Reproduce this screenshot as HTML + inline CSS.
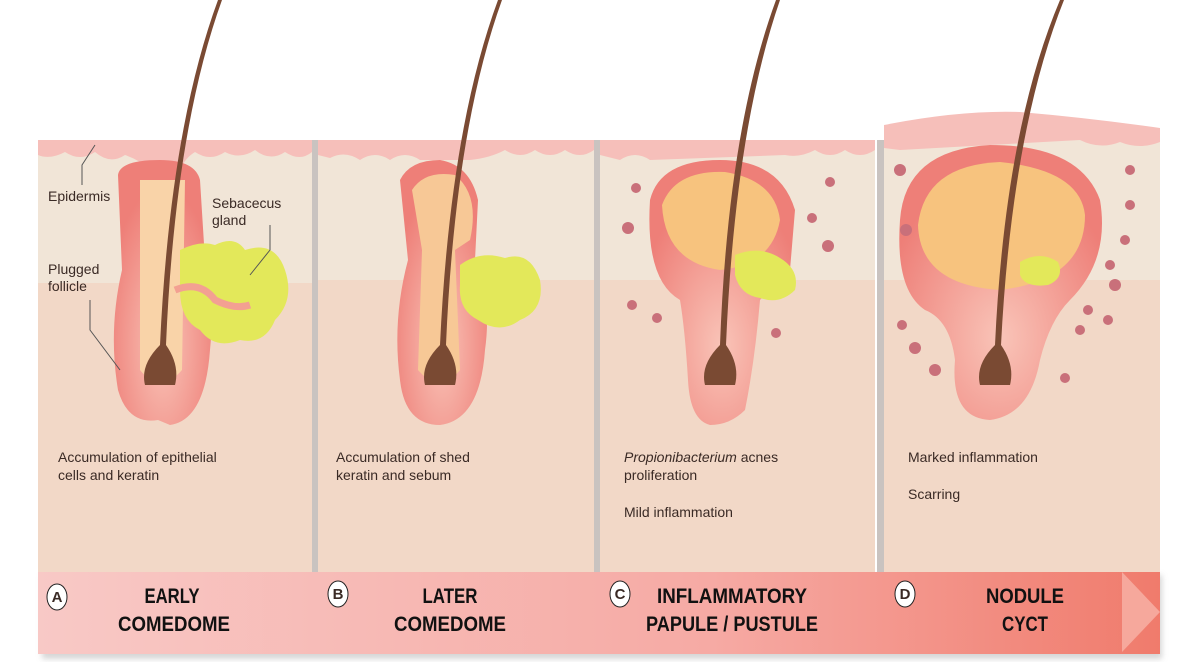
<!DOCTYPE html>
<html><head><meta charset="utf-8"><style>
body{margin:0;background:#fff;width:1200px;height:662px;overflow:hidden}
svg{display:block}
text{font-family:"Liberation Sans",sans-serif;fill:#3a2a25}
.lb{font-size:14px}
.tt{font-family:"Liberation Sans",sans-serif;font-weight:bold;font-size:21px;fill:#111;text-anchor:middle}
</style></head><body>
<svg width="1200" height="662" viewBox="0 0 1200 662">
<defs>
<linearGradient id="bar" x1="0" x2="1"><stop offset="0" stop-color="#f8c9c6"/><stop offset="0.6" stop-color="#f6aaa4"/><stop offset="1" stop-color="#f07b6c"/></linearGradient>
<radialGradient id="fol" cx="0.5" cy="0.7" r="0.6"><stop offset="0" stop-color="#f9c4b8"/><stop offset="1" stop-color="#ee7f78"/></radialGradient>
<filter id="sh"><feGaussianBlur stdDeviation="3"/></filter>
</defs>
<!-- shadows -->
<rect x="42" y="575" width="1120" height="84" fill="#bbb" filter="url(#sh)" opacity="0.6"/>
<!-- panels -->
<g id="panels">
<rect x="38" y="140" width="274" height="432" fill="#f2d8c7"/>
<rect x="38" y="140" width="274" height="143" fill="#f1e5d7"/>
<rect x="318" y="140" width="276" height="432" fill="#f2d8c7"/>
<rect x="318" y="140" width="276" height="140" fill="#f1e5d7"/>
<rect x="600" y="140" width="275" height="432" fill="#f2d8c7"/>
<rect x="600" y="140" width="275" height="140" fill="#f1e5d7"/>
<rect x="884" y="130" width="276" height="442" fill="#f2d8c7"/>
<rect x="884" y="130" width="276" height="150" fill="#f1e5d7"/>
<rect x="312" y="140" width="6" height="432" fill="#c9c3c0"/>
<rect x="594" y="140" width="6" height="432" fill="#c9c3c0"/>
<rect x="877" y="140" width="7" height="432" fill="#c9c3c0"/>
</g>
<!-- epidermis bands -->
<path d="M38 140 H312 V152 Q300 162 285 152 Q270 162 255 150 Q240 160 225 152 Q210 162 195 152 Q185 158 180 170 L150 170 Q140 160 125 155 Q110 165 95 152 Q80 162 65 152 Q50 160 38 155Z" fill="#f6bfba"/>
<path d="M318 140 H594 V150 Q580 160 565 150 Q550 160 535 150 Q520 160 505 150 Q490 158 470 160 L420 160 Q405 150 390 160 Q375 150 360 160 Q345 150 330 158 L318 155Z" fill="#f6bfba"/>
<path d="M600 140 H875 V150 Q860 160 845 150 Q830 160 815 150 Q800 158 785 155 L650 160 Q635 150 620 160 L600 155Z" fill="#f6bfba"/>
<path d="M884 125 Q960 110 1020 112 Q1090 118 1160 128 V142 Q1140 150 1120 142 Q1100 150 1080 140 L900 150 L884 148Z" fill="#f6bfba"/>
<!-- Panel A -->
<path d="M118 175 Q120 160 160 160 Q195 160 200 180 L205 260 Q215 300 210 350 Q205 420 170 425 L158 420 Q128 425 118 390 Q108 330 122 270Z" fill="url(#fol)"/>
<path d="M140 180 L185 180 L182 370 Q160 395 140 370Z" fill="#f9d3a8"/>
<path d="M180 250 Q200 240 215 245 Q235 235 245 250 Q275 240 285 270 Q295 300 275 320 Q265 345 240 340 Q215 350 200 330 Q180 320 180 290Z" fill="#e3e85a"/>
<path d="M175 290 Q200 280 215 300 Q235 310 250 305" stroke="#f3a092" stroke-width="7" fill="none"/>
<!-- Panel B -->
<path d="M400 180 Q410 160 440 160 Q470 165 478 200 L475 260 Q492 300 485 350 Q480 420 440 425 Q405 425 400 380 Q392 320 408 260Z" fill="url(#fol)"/>
<path d="M412 190 Q425 170 455 175 Q480 195 470 240 L455 250 L460 370 Q440 395 418 370 L422 250Z" fill="#f7c896"/>
<path d="M460 265 Q480 250 505 258 Q530 250 540 280 Q545 310 520 320 Q500 335 478 320 Q458 310 460 285Z" fill="#e3e85a"/>
<!-- Panel C -->
<path d="M650 200 Q660 160 720 160 Q780 160 795 210 L790 270 Q770 290 760 300 Q755 360 745 410 Q730 425 710 425 Q690 420 688 380 Q685 330 680 300 Q645 280 650 200Z" fill="url(#fol)"/>
<path d="M662 205 Q675 170 725 172 Q775 180 780 220 Q772 265 720 270 Q665 262 662 205Z" fill="#f7c37e"/>
<path d="M735 255 Q760 245 780 258 Q800 270 795 290 Q780 305 760 298 Q740 295 735 275Z" fill="#e3e85a"/>
<!-- Panel D -->
<path d="M900 220 Q905 150 990 145 Q1080 145 1100 200 Q1110 260 1070 300 Q1050 320 1040 360 Q1030 415 990 420 Q950 418 955 360 Q950 320 925 310 Q895 290 900 220Z" fill="url(#fol)"/>
<path d="M918 225 Q925 165 1000 162 Q1080 170 1085 215 Q1085 280 1000 290 Q920 285 918 225Z" fill="#f7c37e"/>
<path d="M1020 262 Q1040 250 1058 262 Q1065 278 1048 285 Q1025 288 1020 275Z" fill="#e3e85a"/>
<!-- hairs -->
<path d="M218 0 Q170 130 160 345 Q140 365 145 385 L175 385 Q180 365 166 345 Q175 130 222 0Z" fill="#7a4a33"/>
<path d="M498 0 Q450 130 440 345 Q420 365 425 385 L455 385 Q460 365 446 345 Q455 130 502 0Z" fill="#7a4a33"/>
<path d="M776 0 Q728 130 720 345 Q700 365 705 385 L735 385 Q740 365 726 345 Q735 130 780 0Z" fill="#7a4a33"/>
<path d="M1060 0 Q1005 130 995 345 Q975 365 980 385 L1010 385 Q1015 365 1001 345 Q1012 130 1064 0Z" fill="#7a4a33"/>
<!-- cells -->
<g fill="#c9707a">
<circle cx="628" cy="228" r="6"/><circle cx="636" cy="188" r="5"/><circle cx="632" cy="305" r="5"/><circle cx="657" cy="318" r="5"/><circle cx="830" cy="182" r="5"/><circle cx="812" cy="218" r="5"/><circle cx="828" cy="246" r="6"/><circle cx="776" cy="333" r="5"/>
<circle cx="900" cy="170" r="6"/><circle cx="906" cy="230" r="6"/><circle cx="902" cy="325" r="5"/><circle cx="915" cy="348" r="6"/><circle cx="935" cy="370" r="6"/><circle cx="1130" cy="170" r="5"/><circle cx="1130" cy="205" r="5"/><circle cx="1125" cy="240" r="5"/><circle cx="1110" cy="265" r="5"/><circle cx="1115" cy="285" r="6"/><circle cx="1108" cy="320" r="5"/><circle cx="1088" cy="310" r="5"/><circle cx="1065" cy="378" r="5"/><circle cx="1080" cy="330" r="5"/>
</g>
<!-- leader lines -->
<g stroke="#555" fill="none" stroke-width="1"><path d="M82 185 L82 165 L95 145"/><path d="M270 225 L270 250 L250 275"/><path d="M90 300 L90 330 L120 370"/></g>
<!-- labels -->
<text class="lb" x="48" y="201">Epidermis</text>
<text class="lb" x="212" y="208">Sebacecus</text><text class="lb" x="212" y="225">gland</text>
<text class="lb" x="48" y="274">Plugged</text><text class="lb" x="48" y="291">follicle</text>
<text class="lb" x="58" y="462">Accumulation of epithelial</text><text class="lb" x="58" y="480">cells and keratin</text>
<text class="lb" x="336" y="462">Accumulation of shed</text><text class="lb" x="336" y="480">keratin and sebum</text>
<text class="lb" x="624" y="462"><tspan font-style="italic">Propionibacterium</tspan> acnes</text><text class="lb" x="624" y="480">proliferation</text>
<text class="lb" x="624" y="517">Mild inflammation</text>
<text class="lb" x="908" y="462">Marked inflammation</text>
<text class="lb" x="908" y="499">Scarring</text>
<!-- bar -->
<rect x="38" y="572" width="1122" height="82" fill="url(#bar)"/>
<path d="M1122 572 L1160 612 L1122 652Z" fill="#f6a89c"/>
<g fill="#fff" stroke="#222" stroke-width="1"><ellipse cx="57" cy="597" rx="10" ry="13"/><ellipse cx="338" cy="594" rx="10" ry="13"/><ellipse cx="620" cy="594" rx="10" ry="13"/><ellipse cx="905" cy="594" rx="10" ry="13"/></g>
<g font-family="Liberation Sans" font-weight="bold" font-size="15" text-anchor="middle" fill="#111"><text x="57" y="602">A</text><text x="338" y="599">B</text><text x="620" y="599">C</text><text x="905" y="599">D</text></g>
<text class="tt" x="172" y="603" textLength="55" lengthAdjust="spacingAndGlyphs">EARLY</text>
<text class="tt" x="174" y="631" textLength="112" lengthAdjust="spacingAndGlyphs">COMEDOME</text>
<text class="tt" x="450" y="603" textLength="55" lengthAdjust="spacingAndGlyphs">LATER</text>
<text class="tt" x="450" y="631" textLength="112" lengthAdjust="spacingAndGlyphs">COMEDOME</text>
<text class="tt" x="732" y="603" textLength="150" lengthAdjust="spacingAndGlyphs">INFLAMMATORY</text>
<text class="tt" x="732" y="631" textLength="172" lengthAdjust="spacingAndGlyphs">PAPULE / PUSTULE</text>
<text class="tt" x="1025" y="603" textLength="78" lengthAdjust="spacingAndGlyphs">NODULE</text>
<text class="tt" x="1025" y="631" textLength="46" lengthAdjust="spacingAndGlyphs">CYCT</text>
</svg>
</body></html>
